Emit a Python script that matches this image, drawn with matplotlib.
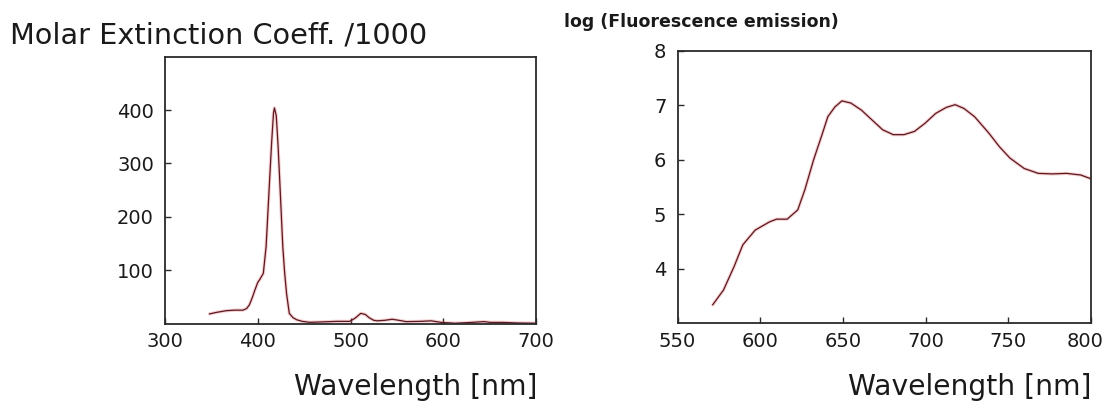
import matplotlib
matplotlib.use("Agg")
import matplotlib.pyplot as plt
import matplotlib.transforms as mtransforms

# Absorption spectrum (left)
abs_wavelength = [348, 356, 366, 375, 384, 388, 391, 394, 397, 400, 402, 406, 409, 411, 413,
                  415, 417, 418, 420, 422, 424, 427, 429, 431, 434, 438, 442, 448, 456, 470,
                  485, 499, 505, 511, 516, 520, 525, 529, 537, 545, 552, 560, 575, 587, 598,
                  613, 630, 644, 651, 665, 680, 700]
abs_values = [18, 21, 24, 25, 25, 28, 35, 48, 63, 77, 82, 94, 144, 210, 276,
              340, 395, 404, 389, 330, 257, 144, 95, 57, 19, 11, 7, 4, 2.2, 3,
              4, 4, 10, 19, 17, 11, 6, 5, 6, 8, 6, 3.5, 4, 5, 2,
              0.5, 2, 3.5, 2, 2, 1, 0.5]

# Fluorescence emission spectrum (right)
fl_wavelength = [571.3, 577.8, 584.2, 589.5, 597.0, 605.6, 609.9, 616.3, 622.7, 627.0,
                 632.3, 637.7, 640.9, 645.2, 649.4, 654.8, 661.2, 667.6, 674.0, 680.4,
                 686.9, 693.3, 699.7, 706.1, 712.5, 717.9, 723.2, 729.6, 738.2, 744.6,
                 751.0, 759.6, 768.1, 776.7, 785.2, 793.8, 800.0]
fl_values = [3.34, 3.61, 4.04, 4.44, 4.71, 4.86, 4.91, 4.91, 5.08, 5.45,
             6.00, 6.49, 6.79, 6.97, 7.08, 7.04, 6.91, 6.73, 6.55, 6.46,
             6.46, 6.52, 6.67, 6.85, 6.96, 7.01, 6.94, 6.79, 6.49, 6.24,
             6.03, 5.84, 5.75, 5.74, 5.75, 5.72, 5.65]

abs_xticks = [300, 400, 500, 600, 700]
abs_yticks = [100, 200, 300, 400]
fl_xticks = [550, 600, 650, 700, 750, 800]
fl_yticks = [4, 5, 6, 7, 8]

W, H = 1105, 401
fig = plt.figure(figsize=(W / 100, H / 100), dpi=100)
fig.patch.set_facecolor("white")

def px_axes(x0, x1, ytop, ybot):
    return fig.add_axes([x0 / W, (H - ybot) / H, (x1 - x0) / W, (ybot - ytop) / H])

ax1 = px_axes(165, 536, 56.7, 323.5)
ax2 = px_axes(677.5, 1091, 50.7, 323.3)

def style(ax):
    for s in ax.spines.values():
        s.set_linewidth(1.3)
        s.set_color("#2a2a2a")
    ax.tick_params(direction="in", length=4, width=1, color="#2a2a2a",
                   labelsize=14, labelcolor="#1a1a1a", pad=8)
    ax.tick_params(axis="x", pad=6)

for ax, xs, ys in [(ax1, abs_wavelength, abs_values), (ax2, fl_wavelength, fl_values)]:
    ax.plot(xs, ys, color="#e06060", lw=2.4, alpha=0.3, solid_capstyle="round")
    ax.plot(xs, ys, color="#5a1822", lw=0.9)
    style(ax)

ax1.set_xlim(300, 700)
ax1.set_ylim(0, 500)
ax1.set_xticks(abs_xticks)
ax1.set_yticks(abs_yticks)

ax2.set_xlim(550, 800)
ax2.set_ylim(3, 8)
ax2.set_xticks(fl_xticks)
ax2.set_yticks(fl_yticks)

# keep the last label of the right axis inside the image, as in the reference
last = ax2.get_xticklabels()[-1]
last.set_transform(last.get_transform() + mtransforms.ScaledTranslation(-6 / 100, 0, fig.dpi_scale_trans))

fig.text(10.5 / W, (H - 35) / H, "Molar Extinction Coeff. /1000", ha="left", va="center",
         fontsize=20.7, color="#1a1a1a")
fig.text(537 / W, (H - 387) / H, "Wavelength [nm]", ha="right", va="center",
         fontsize=20.3, color="#1a1a1a")
fig.text(564 / W, (H - 22) / H, "log (Fluorescence emission)", ha="left", va="center",
         fontsize=12.5, fontweight="semibold", color="#1a1a1a")
fig.text(1091.5 / W, (H - 387) / H, "Wavelength [nm]", ha="right", va="center",
         fontsize=20.3, color="#1a1a1a")

fig.savefig("out.png", dpi=100, facecolor="white")
